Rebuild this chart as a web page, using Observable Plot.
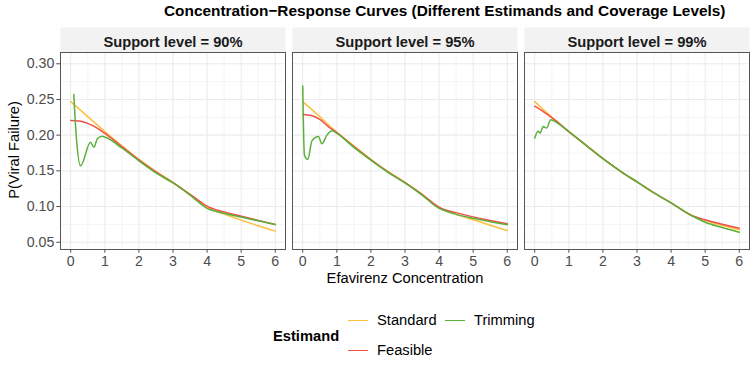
<!DOCTYPE html>
<html>
<head>
<meta charset="utf-8">
<script src="https://cdn.jsdelivr.net/npm/d3@7"></script>
<script src="https://cdn.jsdelivr.net/npm/@observablehq/plot@0.6"></script>
<style>
  body { margin: 0; background: #fff; font-family: "Liberation Sans", Arial, sans-serif; }
  #wrap { position: relative; width: 753px; height: 377px; overflow: hidden; }
  #title { position: absolute; left: 164px; top: 2px; font-size: 15.4px; font-weight: bold; color: #000; white-space: nowrap; }
  #chart { position: absolute; left: 0; top: 25px; }
  #xlab { position: absolute; left: 60px; width: 690px; top: 270px; text-align: center; font-size: 14.7px; color: #000; }
  #ylab { position: absolute; left: 14px; top: 150px; font-size: 14.7px; color: #000; white-space: nowrap;
          transform: translate(-50%, -50%) rotate(-90deg); }
  .lg { position: absolute; font-size: 14.7px; color: #000; white-space: nowrap; }
  .key { position: absolute; width: 20px; height: 0; border-top: 1.5px solid; }
</style>
</head>
<body>
<div id="wrap">
  <div id="title"></div>
  <div id="chart"></div>
  <div id="xlab"></div>
  <div id="ylab"></div>
  <div id="legend"></div>
</div>
<script>
// ---------- data ----------
const titleText = "Concentration\u2212Response Curves (Different Estimands and Coverage Levels)";
const xLabel = "Efavirenz Concentration";
const yLabel = "P(Viral Failure)";
const legendTitle = "Estimand";
const supportLevels = [90, 95, 99];
const estimandNames = ["Standard", "Feasible", "Trimming"];
const estimandColors = ["#FDBF3F", "#F0504A", "#59B03A"];
const xTicks = [0, 1, 2, 3, 4, 5, 6];
const xMinor = [0.5, 1.5, 2.5, 3.5, 4.5, 5.5];
const yTicks = [0.05, 0.10, 0.15, 0.20, 0.25, 0.30];
const yMinor = [0.075, 0.125, 0.175, 0.225, 0.275];

// Support level = 90%
const std90_x = [0, 0.5, 1, 1.5, 2, 2.5, 3, 3.5, 4, 4.5, 5, 5.5, 6];
const std90_y = [0.247, 0.226, 0.205, 0.185, 0.166, 0.149, 0.134, 0.117, 0.0985, 0.0895, 0.081, 0.073, 0.0655];
const fea90_x = [0, 0.25, 0.5, 0.75, 1, 1.5, 2, 2.5, 3, 3.5, 3.8, 4, 4.5, 5, 5.5, 6];
const fea90_y = [0.2205, 0.2198, 0.2165, 0.2105, 0.2025, 0.184, 0.1655, 0.1485, 0.1335, 0.117, 0.107, 0.1005, 0.0925, 0.0865, 0.0805, 0.0748];
const trim90_x = [0.09, 0.16, 0.29, 0.58, 0.68, 0.78, 0.92, 1.02, 1.5, 2, 2.5, 3, 3.5, 4, 4.1, 4.5, 5, 5.5, 6];
const trim90_y = [0.257, 0.200, 0.157, 0.190, 0.183, 0.195, 0.1985, 0.197, 0.182, 0.164, 0.147, 0.133, 0.116, 0.0975, 0.0955, 0.0905, 0.0852, 0.080, 0.0748];

// Support level = 95%
const std95_x = [0, 0.5, 1, 1.5, 2, 2.5, 3, 3.5, 4, 4.5, 5, 5.5, 6];
const std95_y = [0.247, 0.226, 0.204, 0.185, 0.166, 0.149, 0.134, 0.117, 0.098, 0.089, 0.0815, 0.0738, 0.0664];
const fea95_x = [0, 0.25, 0.5, 0.75, 1, 1.5, 2, 2.5, 3, 3.5, 3.8, 4, 4.5, 5, 5.5, 6];
const fea95_y = [0.229, 0.2275, 0.222, 0.212, 0.2035, 0.184, 0.1655, 0.1485, 0.1335, 0.117, 0.106, 0.099, 0.0915, 0.0855, 0.0805, 0.0758];
const trim95_x = [0, 0.05, 0.15, 0.27, 0.46, 0.56, 0.71, 0.86, 1, 1.5, 2, 2.5, 3, 3.5, 4, 4.1, 4.5, 5, 5.5, 6];
const trim95_y = [0.269, 0.172, 0.166, 0.192, 0.198, 0.188, 0.200, 0.206, 0.2025, 0.183, 0.165, 0.148, 0.133, 0.116, 0.0975, 0.0955, 0.089, 0.0835, 0.0788, 0.0744];

// Support level = 99%
const std99_x = [0, 0.6, 1, 1.5, 2, 2.5, 3, 3.5, 4, 4.6, 5, 5.5, 6];
const std99_y = [0.247, 0.221, 0.205, 0.186, 0.167, 0.150, 0.1345, 0.119, 0.105, 0.0874, 0.0804, 0.0734, 0.0674];
const fea99_x = [0, 0.25, 0.5, 0.6, 1, 1.5, 2, 2.5, 3, 3.5, 4, 4.6, 5, 5.5, 6];
const fea99_y = [0.2406, 0.233, 0.2245, 0.221, 0.205, 0.186, 0.167, 0.150, 0.1345, 0.119, 0.105, 0.0874, 0.0814, 0.0752, 0.0697];
const trim99_x = [0, 0.1, 0.155, 0.25, 0.35, 0.47, 0.57, 1, 1.5, 2, 2.5, 3, 3.5, 4, 4.6, 5, 5.5, 6];
const trim99_y = [0.196, 0.2056, 0.2028, 0.212, 0.210, 0.2216, 0.2196, 0.205, 0.186, 0.167, 0.150, 0.1345, 0.119, 0.105, 0.0874, 0.078, 0.0706, 0.064];

// ---------- build table ----------
const series = [
  {level: 90, est: "Standard", x: std90_x, y: std90_y},
  {level: 90, est: "Feasible", x: fea90_x, y: fea90_y},
  {level: 90, est: "Trimming", x: trim90_x, y: trim90_y},
  {level: 95, est: "Standard", x: std95_x, y: std95_y},
  {level: 95, est: "Feasible", x: fea95_x, y: fea95_y},
  {level: 95, est: "Trimming", x: trim95_x, y: trim95_y},
  {level: 99, est: "Standard", x: std99_x, y: std99_y},
  {level: 99, est: "Feasible", x: fea99_x, y: fea99_y},
  {level: 99, est: "Trimming", x: trim99_x, y: trim99_y}
];
const rows = series.flatMap(s => s.x.map((x, i) => ({level: s.level, est: s.est, x, y: s.y[i]})));

const H = 270, MT = 27, MB = 46;
const panelH = H - MT - MB;

const chart = Plot.plot({
  width: 753,
  height: H,
  marginLeft: 60,
  marginRight: 3,
  marginTop: MT,
  marginBottom: MB,
  style: {fontFamily: "'Liberation Sans', Arial, sans-serif", fontSize: "14.2px", color: "#4D4D4D", background: "transparent"},
  fx: {domain: supportLevels, paddingInner: 0.03, paddingOuter: 0, axis: null, label: null},
  x: {domain: [-0.3, 6.3], ticks: xTicks, tickFormat: d3.format("d"), tickSize: 3.7, tickPadding: 2.5, label: null},
  y: {domain: [0.0398, 0.3158], ticks: yTicks, tickFormat: d3.format(".2f"), tickSize: 3.7, tickPadding: 2.5, label: null},
  color: {domain: estimandNames, range: estimandColors},
  marks: [
    Plot.frame({fill: "#F2F2F2", stroke: null, insetTop: -25, insetBottom: panelH}),
    Plot.text(supportLevels, {fx: d => d, text: d => `Support level = ${d}%`, frameAnchor: "top", dy: -16,
      fontSize: 14.7, fontWeight: "bold", fill: "#1A1A1A"}),
    Plot.gridX(xMinor, {stroke: "#EBEBEB", strokeOpacity: 1, strokeWidth: 0.55}),
    Plot.gridY(yMinor, {stroke: "#EBEBEB", strokeOpacity: 1, strokeWidth: 0.55}),
    Plot.gridX(xTicks, {stroke: "#EBEBEB", strokeOpacity: 1, strokeWidth: 1.1}),
    Plot.gridY(yTicks, {stroke: "#EBEBEB", strokeOpacity: 1, strokeWidth: 1.1}),
    Plot.line(rows, {fx: "level", x: "x", y: "y", z: "est", stroke: "est", strokeWidth: 1.5, curve: "monotone-x"}),
    Plot.frame({stroke: "#555555", strokeWidth: 1})
  ]
});
document.getElementById("chart").appendChild(chart);

document.getElementById("title").textContent = titleText;
document.getElementById("xlab").textContent = xLabel;
document.getElementById("ylab").textContent = yLabel;

// ---------- legend ----------
const legend = document.getElementById("legend");
const lt = document.createElement("div");
lt.className = "lg"; lt.style.left = "273px"; lt.style.top = "328px"; lt.style.fontWeight = "bold";
lt.textContent = legendTitle;
legend.appendChild(lt);
const slots = [{x: 348, y: 321}, {x: 348, y: 351}, {x: 445, y: 321}];
estimandNames.forEach((name, i) => {
  const k = document.createElement("div");
  k.className = "key";
  k.style.left = slots[i].x + "px"; k.style.top = (slots[i].y - 1) + "px";
  k.style.borderTopColor = estimandColors[i];
  legend.appendChild(k);
  const t = document.createElement("div");
  t.className = "lg";
  t.style.left = (slots[i].x + 29) + "px"; t.style.top = (slots[i].y - 9) + "px";
  t.textContent = name;
  legend.appendChild(t);
});
</script>
</body>
</html>
